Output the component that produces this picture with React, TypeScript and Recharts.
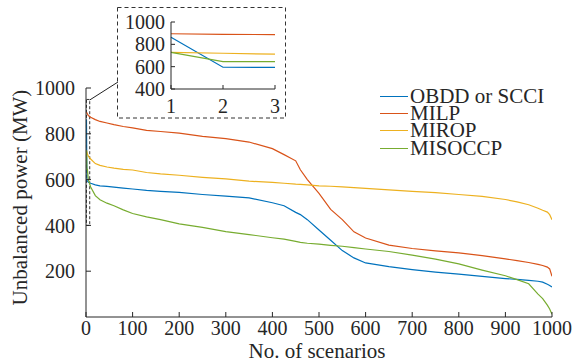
import React from 'react';
import { LineChart, Line, XAxis, YAxis, ReferenceArea, Legend } from 'recharts';

const scenarios = [1, 2, 3, 5, 10, 20, 30, 45, 60, 80, 100, 130, 160, 200, 250, 300, 350, 400, 425, 450, 460, 475, 500, 525, 550, 575, 600, 650, 700, 750, 800, 850, 900, 925, 950, 970, 980, 990, 995, 1000];
const obddVals = [863, 595, 594, 588, 584, 577, 573, 570, 567, 563, 559, 553, 549, 544, 535, 528, 520, 499, 486, 457, 447, 425, 380, 335, 290, 258, 236, 220, 207, 196, 187, 177, 168, 164, 160, 156, 152, 143, 138, 131];
const milpVals = [895, 890, 887, 880, 872, 862, 854, 847, 840, 832, 826, 815, 810, 803, 789, 779, 764, 735, 709, 682, 643, 600, 540, 470, 425, 372, 345, 314, 299, 289, 280, 268, 254, 246, 238, 230, 225, 218, 210, 178];
const miropVals = [728, 720, 712, 702, 690, 670, 662, 655, 650, 645, 642, 631, 625, 619, 610, 603, 593, 588, 584, 580, 579, 577, 573, 571, 568, 565, 562, 555, 549, 543, 535, 527, 513, 503, 490, 475, 466, 458, 447, 425];
const misoccpVals = [728, 645, 645, 600, 568, 530, 512, 497, 486, 468, 452, 437, 425, 407, 391, 373, 360, 346, 340, 330, 326, 322, 318, 313, 309, 303, 297, 286, 270, 253, 232, 205, 180, 163, 145, 100, 80, 52, 35, 12];

const seriesNames = ['OBDD or SCCI', 'MILP', 'MIROP', 'MISOCCP'];
const seriesKeys = ['obdd', 'milp', 'mirop', 'misoccp'];
const seriesColors = ['#0072BD', '#D95319', '#EDB120', '#77AC30'];

const xTicks = [0, 100, 200, 300, 400, 500, 600, 700, 800, 900, 1000];
const yTicks = [200, 400, 600, 800, 1000];
const insetXTicks = [1, 2, 3];
const insetYTicks = [400, 600, 800, 1000];

const data = scenarios.map((s, i) => ({
  s,
  obdd: obddVals[i],
  milp: milpVals[i],
  mirop: miropVals[i],
  misoccp: misoccpVals[i],
}));
const insetData = data.filter((d) => d.s <= 3);

const FONT = 'Liberation Serif, DejaVu Serif, serif';
const AX = '#262626';

const tickStyle = { fontFamily: FONT, fontSize: 20, fill: AX };

const LegendContent = (props: any) => {
  const payload = [...(props.payload || [])].sort(
    (a: any, b: any) => seriesNames.indexOf(a.value) - seriesNames.indexOf(b.value)
  );
  return (
    <div style={{ fontFamily: FONT, fontSize: 21, color: AX }}>
      {payload.map((p: any) => (
        <div key={p.value} style={{ display: 'flex', alignItems: 'center', height: 17.2, lineHeight: '17.2px', whiteSpace: 'nowrap' }}>
          <span style={{ display: 'inline-block', width: 28, height: 0, borderTop: `1.3px solid ${p.color}`, marginRight: 2 }} />
          <span style={{ fontFamily: FONT }}>{p.value}</span>
        </div>
      ))}
    </div>
  );
};

export default function App() {
  return (
    <div style={{ position: 'absolute', left: 0, top: 0, width: 575, height: 364, background: '#fff', fontFamily: FONT }}>
      <div style={{ position: 'absolute', left: 0, top: 0 }}>
        <LineChart width={575} height={364} data={data} margin={{ top: 88, right: 23, bottom: 17, left: 26 }}>
          <XAxis
            dataKey="s"
            type="number"
            domain={[0, 1000]}
            ticks={xTicks}
            interval={0}
            tickSize={-5}
            tickMargin={9}
            height={30}
            stroke={AX}
            tick={tickStyle}
            allowDataOverflow
          />
          <YAxis
            type="number"
            domain={[0, 1000]}
            ticks={yTicks}
            interval={0}
            tickSize={-5}
            tickMargin={16}
            width={60}
            stroke={AX}
            tick={tickStyle}
            allowDataOverflow
          />
          <ReferenceArea x1={1} x2={8} y1={400} y2={950} fill="none" stroke="#333" strokeDasharray="3 2" strokeWidth={1} ifOverflow="visible" />
          {seriesKeys.map((k, i) => (
            <Line
              key={k}
              dataKey={k}
              name={seriesNames[i]}
              type="linear"
              stroke={seriesColors[i]}
              strokeWidth={1.2}
              dot={false}
              activeDot={false}
              isAnimationActive={false}
            />
          ))}
          <Legend
            layout="vertical"
            align="center"
            verticalAlign="middle"
            content={LegendContent}
            wrapperStyle={{ position: 'absolute', left: 380, top: 88, width: 'auto' }}
          />
        </LineChart>
      </div>
      <div style={{ position: 'absolute', left: 110, top: 0 }}>
        <LineChart width={180} height={118} data={insetData} margin={{ top: 22, right: 15, bottom: 9, left: 11 }}>
          <XAxis
            dataKey="s"
            type="number"
            domain={[1, 3]}
            ticks={insetXTicks}
            interval={0}
            tickSize={-4}
            tickMargin={14}
            height={20}
            stroke={AX}
            tick={tickStyle}
          />
          <YAxis
            type="number"
            domain={[400, 1000]}
            ticks={insetYTicks}
            interval={0}
            tickSize={-4}
            tickMargin={10}
            width={50}
            stroke={AX}
            tick={tickStyle}
          />
          {seriesKeys.map((k, i) => (
            <Line
              key={k}
              dataKey={k}
              name={seriesNames[i]}
              type="linear"
              stroke={seriesColors[i]}
              strokeWidth={1.2}
              dot={false}
              activeDot={false}
              isAnimationActive={false}
            />
          ))}
        </LineChart>
      </div>
      <svg width={575} height={364} style={{ position: 'absolute', left: 0, top: 0, pointerEvents: 'none' }}>
        <rect x={117.5} y={7.5} width={168} height={110.5} fill="none" stroke="#333" strokeWidth={1} strokeDasharray="4 3" />
        <line x1={89.7} y1={100} x2={118} y2={82} stroke="#222" strokeWidth={1} />
        <text
          x={19.5}
          y={197.5}
          transform="rotate(-90 19.5 197.5)"
          textAnchor="middle"
          dominantBaseline="central"
          fontFamily={FONT}
          fontSize={21}
          fill={AX}
        >
          Unbalanced power (MW)
        </text>
        <text x={317} y={358} textAnchor="middle" fontFamily={FONT} fontSize={21} fill={AX}>
          No. of scenarios
        </text>
      </svg>
    </div>
  );
}
